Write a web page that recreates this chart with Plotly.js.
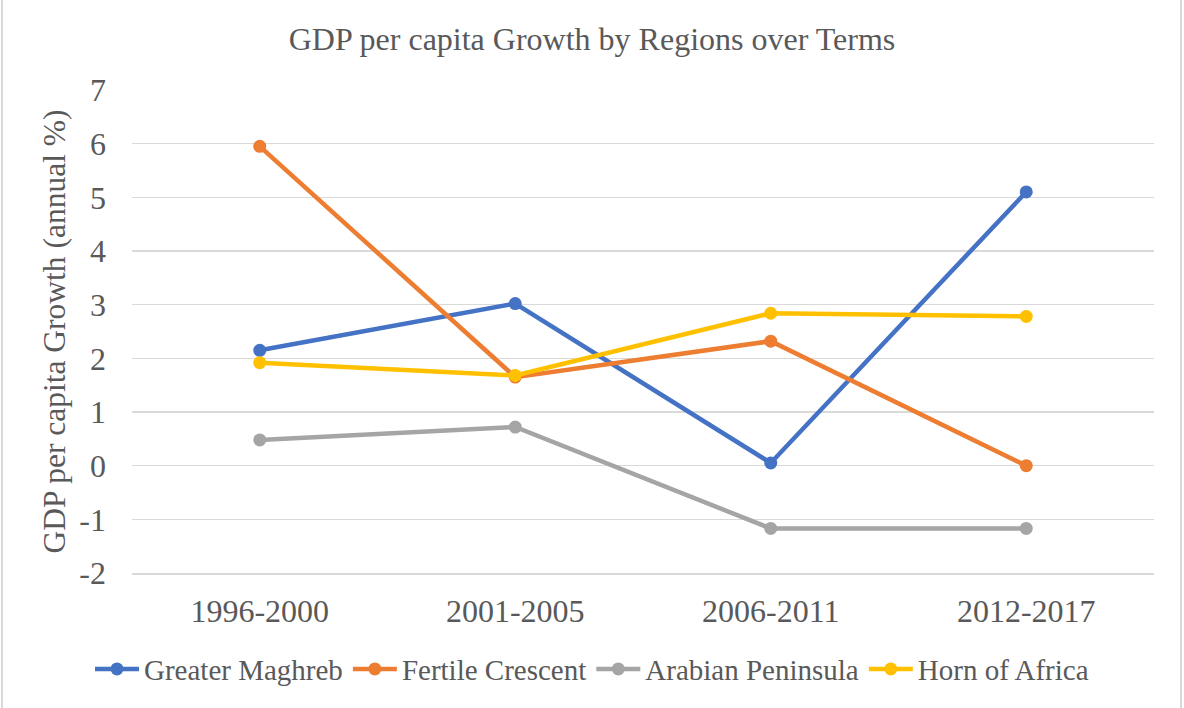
<!DOCTYPE html>
<html><head><meta charset="utf-8">
<script src="https://cdn.plot.ly/plotly-3.0.1.min.js"></script>
<style>
html,body{margin:0;padding:0;background:#fff;}
#wrap{position:relative;width:1184px;height:708px;}
#chart{width:1184px;height:708px;}
.bl{position:absolute;top:0;width:2px;height:708px;background:#d9d9d9;}
</style></head>
<body>
<div id="wrap"><div id="chart"></div><div class="bl" style="left:1px"></div><div class="bl" style="left:1180px"></div></div>
<script>
const terms = ["1996-2000","2001-2005","2006-2011","2012-2017"];
const seriesNames = ["Greater Maghreb","Fertile Crescent","Arabian Peninsula","Horn of Africa"];
const greaterMaghreb = [2.15, 3.02, 0.05, 5.10];
const fertileCrescent = [5.95, 1.65, 2.32, 0.00];
const arabianPeninsula = [0.48, 0.72, -1.17, -1.17];
const hornOfAfrica = [1.92, 1.68, 2.84, 2.78];
const colors = ["#4472C4","#ED7D31","#A5A5A5","#FFC000"];
const yTicks = [-2,-1,0,1,2,3,4,5,6,7];

const values = [greaterMaghreb, fertileCrescent, arabianPeninsula, hornOfAfrica];
const traces = values.map((v,i)=>({
  type:"scatter", mode:"lines+markers", x:terms, y:v, name:seriesNames[i],
  line:{color:colors[i], width:4.5}, marker:{color:colors[i], size:13}
}));
const fam = "Liberation Serif, Times New Roman, serif";
const f = (s)=>({family:fam, color:"#595959", size:s});
const layout = {
  width:1184, height:708, paper_bgcolor:"#fff", plot_bgcolor:"#fff",
  margin:{l:132, r:30, t:90, b:135},
  font:f(29),
  title:{text:"GDP per capita Growth by Regions over Terms", x:0.5, xref:"container", y:0.945, yref:"container", yanchor:"middle", font:f(32)},
  xaxis:{type:"category", range:[-0.5,3.5], showgrid:false, zeroline:false, showline:true, linecolor:"#d9d9d9", linewidth:1.5, ticks:"", ticklabelstandoff:9, tickfont:f(32)},
  yaxis:{range:[-2,7], tickvals:yTicks, ticktext:yTicks.map(String), showgrid:true, gridcolor:"#d9d9d9", gridwidth:1.5, zeroline:false, showline:false, ticks:"", ticklabelstandoff:25, tickfont:f(32),
    title:{text:"GDP per capita Growth (annual %)", standoff:4, font:f(31.5)}},
  showlegend:true,
  legend:{orientation:"h", x:0.5, xref:"container", xanchor:"center", y:0.055, yref:"container", yanchor:"middle", font:f(29), itemwidth:44, tracegroupgap:0}
};
Plotly.newPlot("chart", traces, layout, {displayModeBar:false, staticPlot:true});
</script>
</body></html>
